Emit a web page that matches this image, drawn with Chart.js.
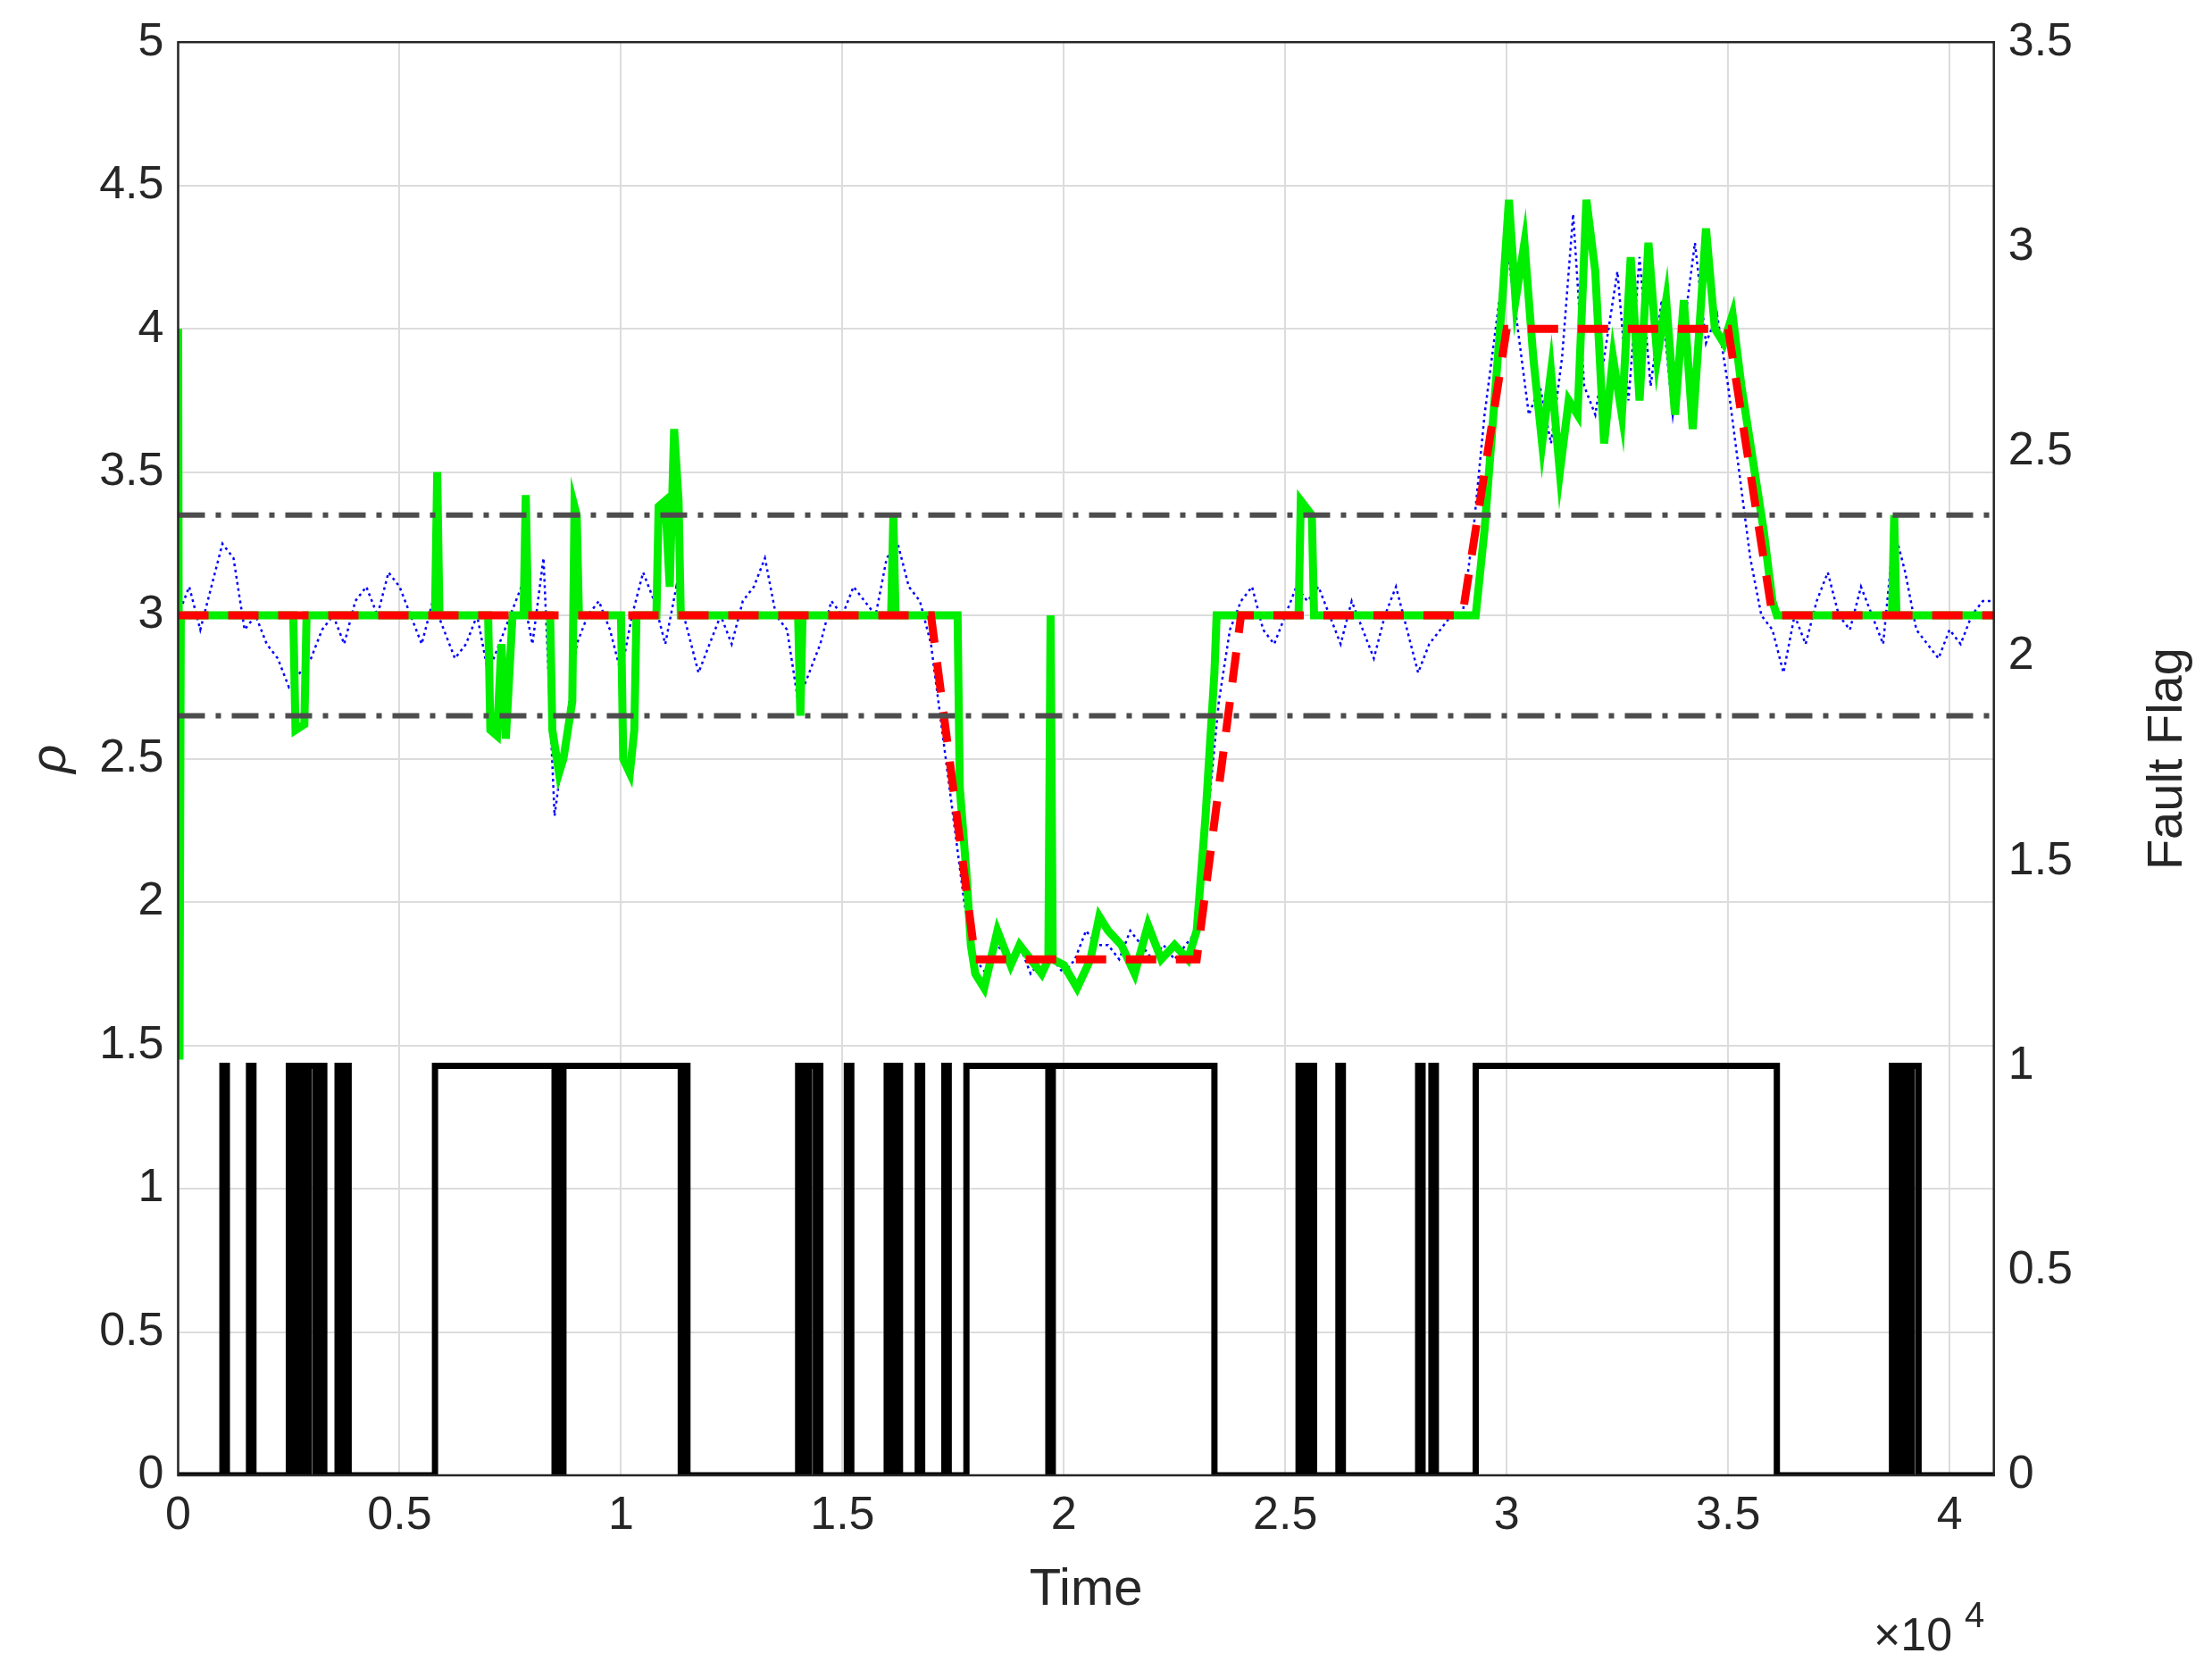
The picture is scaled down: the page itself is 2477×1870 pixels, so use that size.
<!DOCTYPE html>
<html><head><meta charset="utf-8">
<script src="https://cdn.jsdelivr.net/npm/chart.js@4"></script>
<style>html,body{margin:0;padding:0;background:#fff}canvas{display:block}</style>
</head><body>
<canvas id="c" width="2477" height="1870"></canvas>
<script>
const blueStep = 250;
const blueValues = [
3.0,3.1,2.95,3.1, 3.25,3.2,2.95,3.0, 2.9,2.85,2.75,2.8, 2.85,2.95,3.0,2.9,
3.05,3.1,3.0,3.15, 3.1,3.0,2.9,3.05, 2.95,2.85,2.9,3.0, 2.8,2.9,3.0,3.1,
2.9,3.2,2.3,2.6, 2.9,3.0,3.05,2.95, 2.8,3.0,3.15,3.05, 2.9,3.1,2.95,2.8,
2.9,3.0,2.9,3.05, 3.1,3.2,3.0,2.95, 2.7,2.8,2.9,3.05, 3.0,3.1,3.05,3.0,
3.2,3.25,3.1,3.05, 2.9,2.6,2.3,2.0, 1.8,1.75,1.85,1.8, 1.85,1.75,1.8,1.8,
1.75,1.8,1.9,1.85, 1.85,1.8,1.9,1.85, 1.8,1.85,1.8,1.85, 1.9,2.3,2.7,2.95,
3.05,3.1,2.95,2.9, 3.0,3.1,3.05,3.1, 3.0,2.9,3.05,2.95, 2.85,3.0,3.1,2.95,
2.8,2.9,2.95,3.0, 3.0,3.3,3.7,4.0, 4.3,4.0,3.7,3.8, 3.6,3.9,4.4,3.8,
3.7,3.95,4.2,3.75, 4.25,3.8,4.1,3.7, 4.0,4.3,3.95,4.05, 3.8,3.5,3.2,3.0,
2.95,2.8,3.0,2.9, 3.05,3.15,3.0,2.95, 3.1,3.0,2.9,3.3, 3.15,2.95,2.9,2.85,
2.95,2.9,3.0,3.05, 3.05];
const greenTimes = [0,30,60,2600,2650,2850,2900,5800,5850,5900,7000,7050,7200,7300,7400,7550,7800,7850,7900,8400,8450,8600,8700,8800,8900,8950,9000,9050,10000,10050,10200,10300,10350,10800,10850,11000,11100,11200,11300,11350,14000,14050,14100,16100,16150,16200,17600,17650,17800,17900,18000,18200,18500,18800,19000,19500,19650,19700,19750,20000,20300,20600,20800,21000,21300,21600,21900,22200,22500,22800,23000,23200,23400,23450,25300,25350,25600,25650,29300,29500,29700,29900,30050,30200,30400,30600,30800,31000,31200,31400,31600,31800,32000,32200,32400,32600,32800,33000,33200,33400,33600,33800,34000,34200,34500,34700,34900,35100,35300,35500,35800,36000,36100,38700,38750,38800,41000];
const greenValues = [4.0,1.45,3,3,2.6,2.62,3,3,3.5,3,3,2.6,2.58,2.9,2.57,3,3,3.42,3,3,2.6,2.45,2.5,2.6,2.7,3.38,3.35,3,3,2.5,2.45,2.6,3,3,3.38,3.4,3.1,3.65,3.4,3,3,2.65,3,3,3.35,3,3,2.4,2.1,1.85,1.75,1.7,1.9,1.78,1.85,1.75,1.8,3.0,1.8,1.78,1.7,1.8,1.95,1.9,1.85,1.75,1.92,1.8,1.85,1.8,1.9,2.3,2.8,3,3,3.4,3.35,3,3,3.3,3.7,4.1,4.45,4.1,4.3,3.9,3.6,3.85,3.5,3.75,3.7,4.45,4.2,3.6,3.9,3.7,4.25,3.75,4.3,3.9,4.1,3.7,4.1,3.65,4.35,4.0,3.95,4.05,3.8,3.6,3.3,3.05,3,3,3.35,3,3];
const trueTimes = [0,17000,18000,23000,24000,29000,30000,35000,36000,41000];
const trueValues = [3,3,1.8,1.8,3,3,4,4,3,3];
const upperLimit = 3.35, lowerLimit = 2.65;
const faultIntervals = [[1000,1100],[1600,1700],[2500,2600],[2650,2750],[2800,2900],[2950,3100],[3200,3300],[3600,3700],[3750,3850],[5800,8500],[8550,8650],[8700,11350],[11400,11500],[14000,14050],[14100,14200],[14250,14400],[14450,14500],[15100,15200],[16000,16100],[16200,16300],[16700,16800],[17300,17400],[17800,19650],[19750,23400],[25300,25350],[25400,25500],[25550,25650],[26200,26300],[28000,28100],[28300,28400],[29300,36100],[38700,38800],[38850,38950],[39000,39100],[39150,39300]];
const xTicks = [0,5000,10000,15000,20000,25000,30000,35000,40000];

const blueData = blueValues.map((v,i)=>({x:i*blueStep,y:v}));
const greenData = greenTimes.map((t,i)=>({x:t,y:greenValues[i]}));
const trueData = trueTimes.map((t,i)=>({x:t,y:trueValues[i]}));
const flagData = [{x:0,y:0}];
faultIntervals.forEach(([a,b])=>{flagData.push({x:a,y:0},{x:a,y:1},{x:b,y:1},{x:b,y:0});});
flagData.push({x:41000,y:0});

const FONT = 'Liberation Sans, Arial, sans-serif';
const frame = {id:'frame', afterDraw(ch){
  const a=ch.chartArea, c=ch.ctx; c.save();
  c.strokeStyle='#262626'; c.lineWidth=2.5; c.strokeRect(a.left,a.top,a.right-a.left,a.bottom-a.top);
  c.fillStyle='#262626'; c.font='52px '+FONT; c.textAlign='left'; c.textBaseline='alphabetic';
  c.fillText('\u00d710',2098,1848);
  c.font='40px '+FONT; c.fillText('4',2200,1822);
  c.font='56px '+FONT; c.translate(2428,(a.top+a.bottom)/2); c.rotate(-Math.PI/2);
  c.textAlign='center'; c.textBaseline='middle'; c.fillText('Fault Flag',0,0);
  c.restore();
}};
new Chart(document.getElementById('c'),{
  type:'line',
  data:{datasets:[
    {data:flagData,yAxisID:'y2',borderColor:'#000',borderWidth:7,pointRadius:0,tension:0,order:5},
    {data:blueData,yAxisID:'y',borderColor:'#0000ff',borderWidth:2.5,borderDash:[3,4],pointRadius:0,tension:0,order:4},
    {data:greenData,yAxisID:'y',borderColor:'#00ee00',borderWidth:9,pointRadius:0,tension:0,order:3},
    {data:trueData,yAxisID:'y',borderColor:'#ff0000',borderWidth:9,borderDash:[34,22],pointRadius:0,tension:0,order:2},
    {data:[{x:0,y:upperLimit},{x:41000,y:upperLimit}],yAxisID:'y',borderColor:'#4d4d4d',borderWidth:6,borderDash:[30,12,6,12],pointRadius:0,order:1},
    {data:[{x:0,y:lowerLimit},{x:41000,y:lowerLimit}],yAxisID:'y',borderColor:'#4d4d4d',borderWidth:6,borderDash:[30,12,6,12],pointRadius:0,order:1}
  ]},
  options:{responsive:false,animation:false,devicePixelRatio:1,
    layout:{padding:{top:40,right:140,bottom:50,left:20}},
    plugins:{legend:{display:false},tooltip:{enabled:false}},
    scales:{
      x:{type:'linear',min:0,max:41000,
        afterBuildTicks:s=>{s.ticks=xTicks.map(v=>({value:v}));},
        ticks:{font:{size:52,family:FONT},color:'#262626',callback:v=>String(v/10000),maxRotation:0,padding:14},
        grid:{color:'#dcdcdc',lineWidth:2,drawTicks:false},
        title:{display:true,text:'Time',font:{size:58,family:FONT},color:'#262626',padding:{top:4}}},
      y:{position:'left',min:0,max:5,
        ticks:{stepSize:0.5,font:{size:52,family:FONT},color:'#262626',padding:16,callback:v=>String(v)},
        grid:{color:'#dcdcdc',lineWidth:2,drawTicks:false},
        title:{display:true,text:'\u03c1',font:{size:56,family:FONT,style:'italic'},color:'#262626'}},
      y2:{position:'right',min:0,max:3.5,
        ticks:{stepSize:0.5,font:{size:52,family:FONT},color:'#262626',padding:16,callback:v=>String(v)},
        grid:{display:false,drawTicks:false}}
    }},
  plugins:[frame]
});
</script>
</body></html>
